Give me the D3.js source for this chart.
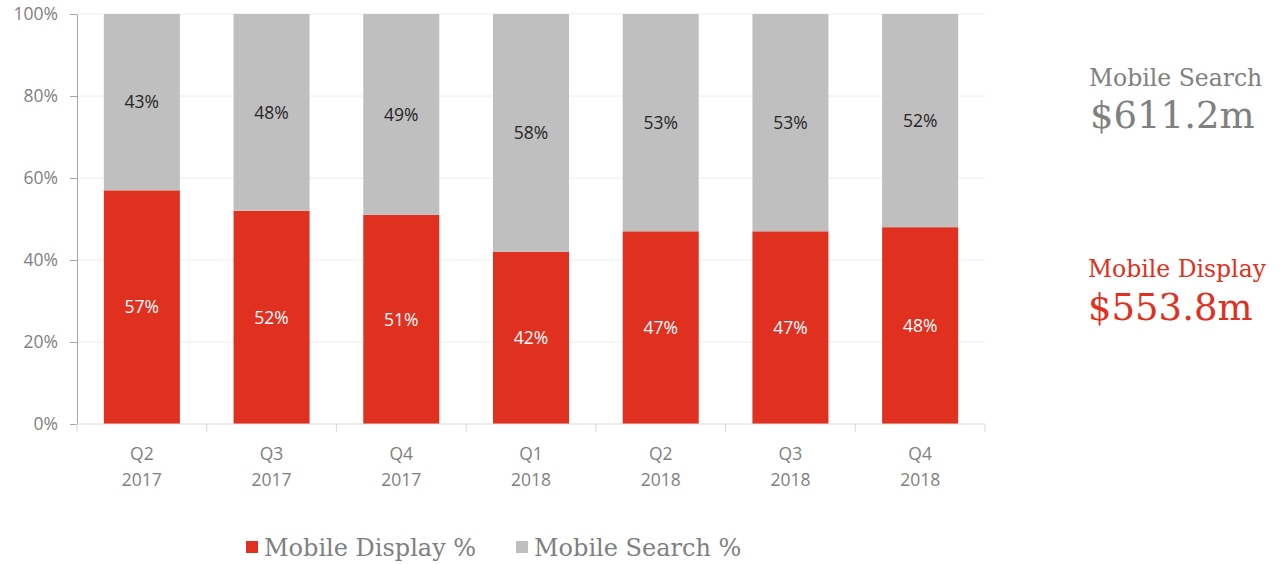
<!DOCTYPE html>
<html>
<head>
<meta charset="utf-8">
<script src="https://cdn.jsdelivr.net/npm/d3@7/dist/d3.min.js"></script>
<style>
  html, body { margin: 0; padding: 0; background: #fff; }
  svg { display: block; }
</style>
</head>
<body>
<svg id="chart" width="1284" height="564"></svg>
<script>
// Quarterly share of mobile ad spend
const quarters = ["Q2|2017", "Q3|2017", "Q4|2017", "Q1|2018", "Q2|2018", "Q3|2018", "Q4|2018"];
const displayPct = [57, 52, 51, 42, 47, 47, 48];
const searchPct = [43, 48, 49, 58, 53, 53, 52];
const yTicks = [0, 20, 40, 60, 80, 100];
const seriesNames = ["Mobile Display %", "Mobile Search %"];
const totals = [
  { name: "Mobile Search", value: "$611.2m" },
  { name: "Mobile Display", value: "$553.8m" }
];

const RED = "#df3020";
const GREY = "#bfbfbf";
const AXIS_TEXT = "#7f7f7f";
const SANS = "'Open Sans', 'Noto Sans', sans-serif";
const SERIF = "Georgia, 'DejaVu Serif', serif";

const svg = d3.select("#chart");
const W = 1284, H = 564;
const margin = { left: 77, right: W - 985, top: 14, bottom: H - 424 };

const x = d3.scaleBand()
  .domain(quarters)
  .range([margin.left, W - margin.right])
  .paddingInner(0.414)
  .paddingOuter(0.207);

const y = d3.scaleLinear().domain([0, 100]).range([H - margin.bottom, margin.top]);

// gridlines
svg.append("g")
  .selectAll("line")
  .data(yTicks.filter(d => d > 0))
  .join("line")
  .attr("x1", margin.left).attr("x2", W - margin.right)
  .attr("y1", d => y(d)).attr("y2", d => y(d))
  .attr("stroke", "#ececec").attr("stroke-width", 1);

const rows = quarters.map((q, i) => ({ q, display: displayPct[i], search: searchPct[i] }));
const stacked = d3.stack().keys(["display", "search"])(rows);
const colors = { display: RED, search: GREY };

const layers = svg.append("g")
  .selectAll("g")
  .data(stacked)
  .join("g")
  .attr("fill", d => colors[d.key]);

layers.selectAll("rect")
  .data(d => d)
  .join("rect")
  .attr("x", d => x(d.data.q))
  .attr("width", x.bandwidth())
  .attr("y", d => y(d[1]))
  .attr("height", d => y(d[0]) - y(d[1]));

// value labels centred in each segment
layers.selectAll("text")
  .data(d => d.map(s => ({ s, key: d.key })))
  .join("text")
  .attr("x", d => x(d.s.data.q) + x.bandwidth() / 2)
  .attr("y", d => y((d.s[0] + d.s[1]) / 2))
  .attr("dy", "0.36em")
  .attr("text-anchor", "middle")
  .attr("font-family", SANS)
  .attr("font-size", 17.5)
  .attr("fill", d => d.key === "display" ? "#ffffff" : "#262626")
  .text(d => (d.s[1] - d.s[0]) + "%");

// y axis
const yAxis = svg.append("g")
  .attr("transform", `translate(${margin.left},0)`)
  .call(d3.axisLeft(y).tickValues(yTicks).tickFormat(d => d + "%").tickSize(7).tickSizeOuter(0));
yAxis.select(".domain").attr("stroke", "#a6a6a6");
yAxis.selectAll(".tick line").attr("stroke", "#a6a6a6");
yAxis.selectAll(".tick text")
  .attr("x", -19)
  .attr("fill", AXIS_TEXT)
  .attr("font-family", SANS)
  .attr("font-size", 17.5);

// x axis with tick marks at category boundaries
const xg = svg.append("g");
xg.append("line")
  .attr("x1", margin.left).attr("x2", W - margin.right)
  .attr("y1", y(0)).attr("y2", y(0))
  .attr("stroke", "#d9d9d9");
const step = x.step();
const gap = (step - x.bandwidth()) / 2;
xg.selectAll("line.b")
  .data(d3.range(quarters.length + 1))
  .join("line")
  .attr("class", "b")
  .attr("x1", i => i < quarters.length ? x(quarters[i]) - gap : x(quarters[i - 1]) + x.bandwidth() + gap)
  .attr("x2", i => i < quarters.length ? x(quarters[i]) - gap : x(quarters[i - 1]) + x.bandwidth() + gap)
  .attr("y1", y(0)).attr("y2", y(0) + 8)
  .attr("stroke", "#d9d9d9");

const xl = xg.selectAll("text.cat")
  .data(quarters)
  .join("text")
  .attr("class", "cat")
  .attr("text-anchor", "middle")
  .attr("fill", AXIS_TEXT)
  .attr("font-family", SANS)
  .attr("font-size", 17.5);
xl.append("tspan").attr("x", d => x(d) + x.bandwidth() / 2).attr("y", 460).text(d => d.split("|")[0]);
xl.append("tspan").attr("x", d => x(d) + x.bandwidth() / 2).attr("y", 486).text(d => d.split("|")[1]);

// legend
const legend = svg.append("g").attr("font-family", SERIF);
const legendItems = [
  { name: seriesNames[0], color: RED, x: 246 },
  { name: seriesNames[1], color: GREY, x: 516 }
];
legendItems.forEach(it => {
  legend.append("rect").attr("x", it.x).attr("y", 541).attr("width", 12).attr("height", 12).attr("fill", it.color);
  legend.append("text").attr("x", it.x + 18).attr("y", 556)
    .attr("font-size", 24).attr("fill", AXIS_TEXT).text(it.name);
});

// totals on the right
const side = svg.append("g").attr("font-family", SERIF);
side.append("text").attr("x", 1089).attr("y", 86).attr("font-size", 23.5).attr("fill", "#808080").text(totals[0].name);
side.append("text").attr("x", 1090).attr("y", 128).attr("font-size", 37).attr("fill", "#808080").text(totals[0].value);
side.append("text").attr("x", 1088).attr("y", 277).attr("font-size", 23.5).attr("fill", RED).text(totals[1].name);
side.append("text").attr("x", 1088).attr("y", 320).attr("font-size", 37).attr("fill", RED).text(totals[1].value);
</script>
</body>
</html>
